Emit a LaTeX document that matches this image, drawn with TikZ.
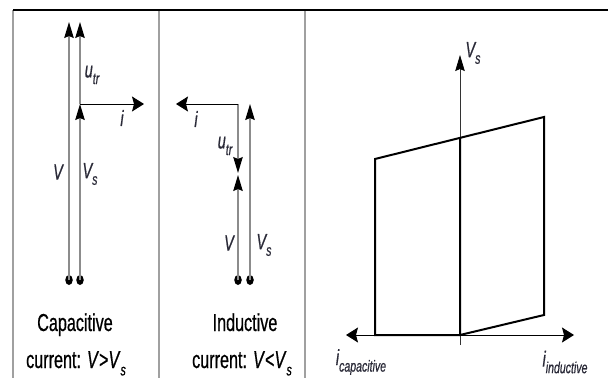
\documentclass[tikz,border=0pt]{standalone}
\usepackage{fontspec}
\setmainfont{Liberation Sans}
\newfontfamily\nar[FakeStretch=0.66,FakeBold=0.6]{Liberation Sans}
\usetikzlibrary{arrows.meta,shapes.geometric}
\definecolor{vecgray}{HTML}{8C8C8C}
\definecolor{framegray}{HTML}{A0A0A0}
\definecolor{lblcol}{HTML}{2A2A38}
\tikzset{
  vtip/.style={-{Stealth[length=16pt,width=9.5pt,inset=2pt,color=black]}},
  htip/.style={-{Stealth[length=12pt,width=15pt,inset=2pt,color=black]}},
  vec/.style={draw=vecgray,line width=1.2pt,vtip},
  hvec/.style={draw=black,line width=1pt,htip},
  lbl/.style={inner sep=0pt,text=lblcol,font=\nar\itshape\fontsize{22}{22}\selectfont},
  captext/.style={inner sep=0pt,anchor=base,text=black,font=\nar\fontsize{24.5}{24.5}\selectfont},
  thick2/.style={draw=black,line width=2pt,line join=miter},
  dotnode/.style={ellipse,fill=black,inner sep=0pt,minimum width=7.5pt,minimum height=10pt},
}
\newcommand\sub[1]{\raisebox{-0.3em}{\fontsize{16}{16}\selectfont #1}}
\begin{document}
\begin{tikzpicture}[x=1pt,y=-1pt]
\useasboundingbox (0,0) rectangle (608,378);
% frame
\draw[framegray,line width=1.2pt] (13,10) -- (13,378);
\draw[framegray,line width=1.2pt] (159,10) -- (159,378);
\draw[framegray,line width=1.2pt] (305,10) -- (305,378);
\draw[black,line width=1.2pt] (13,10) -- (608,10);
% ---- panel 1: capacitive
\node[dotnode] (d1) at (69,280) {};
\node[dotnode] (d2) at (80,280) {};
\coordinate (v1top) at (69,22);
\coordinate (vs1top) at (80,104);
\coordinate (u1top) at (80,22);
\coordinate (i1end) at (144,104);
\draw[vec] (d1.center) -- (v1top);
\draw[vec] (d2.center) -- (vs1top);
\draw[vec] (vs1top) -- (u1top);
\draw[hvec] (vs1top) -- (i1end);
\node[lbl] (lu1) at (92,75) {u\sub{tr}};
\node[lbl] (li1) at (122,118) {i};
\node[lbl] (lv1) at (58,172) {V};
\node[lbl] (lvs1) at (90,174) {V\sub{s}};
\node[captext] (c1a) at (75,331) {Capacitive};
\node[captext] (c1b) at (76,368) {current: \textit{V}>\textit{V}\sub{\textit{s}}};
% ---- panel 2: inductive
\node[dotnode] (d3) at (238,280) {};
\node[dotnode] (d4) at (250,280) {};
\coordinate (u2top) at (238,104);
\coordinate (u2tip) at (238,173);
\coordinate (v2tip) at (238,175);
\coordinate (vs2top) at (250,104);
\coordinate (i2end) at (176,104);
\draw[vec] (d3.center) -- (v2tip);
\draw[vec] (u2top) -- (u2tip);
\draw[vec] (d4.center) -- (vs2top);
\draw[hvec] (u2top) -- (i2end);
\node[lbl] (li2) at (196,119) {i};
\node[lbl] (lu2) at (225,146) {u\sub{tr}};
\node[lbl] (lv2) at (229,243) {V};
\node[lbl] (lvs2) at (264,245) {V\sub{s}};
\node[captext] (c2a) at (245,331) {Inductive};
\node[captext] (c2b) at (242,368) {current: \textit{V}<\textit{V}\sub{\textit{s}}};
% ---- panel 3: characteristic
\coordinate (o) at (460,335);
\coordinate (ybot) at (460,345);
\coordinate (ytop) at (460,55);
\coordinate (xl) at (346,335);
\coordinate (xr) at (574,335);
\draw[draw=black!80,line width=0.8pt,vtip] (ybot) -- (ytop);
\draw[draw=black,line width=1pt,htip] (o) -- (xl);
\draw[draw=black,line width=1pt,htip] (o) -- (xr);
\coordinate (lb) at (375,335);
\coordinate (lt) at (375,159);
\coordinate (mt) at (460,138);
\coordinate (rt) at (544,117);
\coordinate (rb) at (544,315);
\draw[thick2] (o) -- (lb) -- (lt) -- (rt) -- (rb) -- (o) -- (mt);
\node[lbl] (lvs3) at (473,53) {V\sub{s}};
\node[lbl] (lic) at (361,362) {i\sub{capacitive}};
\node[lbl] (lii) at (565,362) {i\sub{inductive}};
\end{tikzpicture}
\end{document}
